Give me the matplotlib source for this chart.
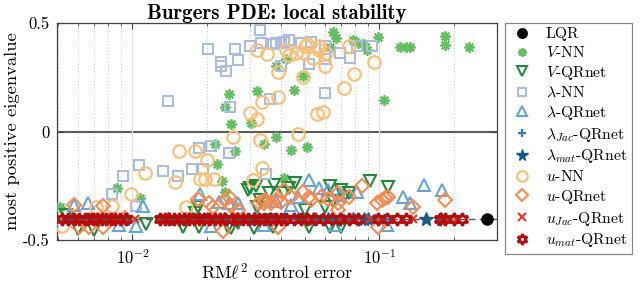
import matplotlib
matplotlib.use("Agg")
import matplotlib.pyplot as plt
from matplotlib.ticker import LogLocator, NullFormatter, FixedLocator

plt.rcParams['font.family'] = 'serif'
plt.rcParams['font.serif'] = ['cmr10']
plt.rcParams['mathtext.fontset'] = 'cm'
plt.rcParams['axes.formatter.use_mathtext'] = True
plt.rcParams['axes.unicode_minus'] = False

# ---------------- data ----------------
lqr_x = [0.272]
lqr_y = [-0.404]
lqr_level = -0.404

vnn_x = [0.0051, 0.0087, 0.0107, 0.0216, 0.022, 0.023, 0.0237, 0.026, 0.0238, 0.0246,
         0.0251, 0.0303, 0.032, 0.034, 0.038, 0.041, 0.044, 0.051, 0.038, 0.042,
         0.045, 0.049, 0.063, 0.065, 0.067, 0.078, 0.082, 0.087, 0.089, 0.099,
         0.104, 0.121, 0.128, 0.133, 0.184, 0.184, 0.231]
vnn_y = [-0.35, -0.26, -0.306, -0.058, -0.15, -0.23, -0.277, -0.09, 0.114, 0.171,
         0.035, 0.04, 0.185, -0.056, -0.027, -0.214, -0.084, -0.07, 0.30, 0.335,
         0.19, 0.257, 0.39, 0.46, 0.43, 0.42, 0.41, 0.405, 0.375, 0.435,
         0.146, 0.39, 0.39, 0.39, 0.44, 0.40, 0.39]

vqr_x = [0.0054, 0.0060, 0.0070, 0.0113, 0.016, 0.018, 0.0185, 0.0186, 0.0244, 0.025,
         0.0268, 0.0294, 0.030, 0.031, 0.0317, 0.032, 0.033, 0.0358, 0.036, 0.037,
         0.0375, 0.041, 0.043, 0.0455, 0.050, 0.052, 0.060, 0.063, 0.063, 0.065,
         0.070, 0.070, 0.072, 0.075, 0.092, 0.108]
vqr_y = [-0.384, -0.45, -0.454, -0.426, -0.44, -0.374, -0.346, -0.44, -0.44, -0.444,
         -0.42, -0.269, -0.26, -0.446, -0.253, -0.346, -0.315, -0.283, -0.41, -0.44,
         -0.245, -0.283, -0.26, -0.237, -0.36, -0.44, -0.346, -0.25, -0.44, -0.322,
         -0.27, -0.44, -0.30, -0.283, -0.23, -0.254]

lnn_x = [0.0083, 0.0092, 0.0103, 0.0106, 0.0133, 0.0139, 0.0153, 0.0175, 0.0186, 0.0193,
         0.0202, 0.0208, 0.0229, 0.0229, 0.024, 0.0245, 0.0248, 0.026, 0.0268, 0.030,
         0.033, 0.0333, 0.0349, 0.036, 0.037, 0.038, 0.040, 0.040, 0.041, 0.043,
         0.048, 0.052, 0.053, 0.060, 0.060, 0.060, 0.069, 0.076, 0.081, 0.093]
lnn_y = [-0.287, -0.205, -0.343, -0.154, -0.18, 0.143, -0.207, -0.172, -0.075, -0.172,
         0.38, -0.066, 0.32, 0.30, 0.28, -0.097, 0.115, 0.38, 0.33, 0.395,
         0.467, 0.41, -0.195, 0.15, 0.405, 0.41, 0.41, 0.30, 0.415, 0.42,
         0.41, 0.31, 0.415, 0.395, 0.335, 0.178, 0.36, 0.34, 0.395, 0.395]

lqr_net_x = [0.0058, 0.0066, 0.0088, 0.0103, 0.011, 0.0188, 0.0208, 0.0224, 0.0246, 0.0268,
             0.0317, 0.034, 0.038, 0.044, 0.047, 0.052, 0.057, 0.062, 0.066, 0.069,
             0.081, 0.107, 0.125, 0.133, 0.151, 0.179]
lqr_net_y = [-0.34, -0.33, -0.43, -0.435, -0.345, -0.29, -0.435, -0.323, -0.33, -0.33,
             -0.40, -0.43, -0.32, -0.338, -0.30, -0.223, -0.26, -0.269, -0.43, -0.292,
             -0.277, -0.43, -0.30, -0.33, -0.246, -0.269]

ljac_x = [0.0055, 0.0060, 0.0066, 0.0073, 0.0079, 0.0086, 0.0095, 0.0132, 0.0150, 0.0170,
          0.0192, 0.0215, 0.0240, 0.0270, 0.0300, 0.0335, 0.0375, 0.0420, 0.0470, 0.0520,
          0.0580, 0.0650, 0.0720, 0.0800, 0.0880, 0.0960, 0.1050]
ljac_y = [-0.404, -0.404, -0.404, -0.404, -0.404, -0.404, -0.404, -0.404, -0.404, -0.404,
          -0.404, -0.404, -0.404, -0.404, -0.404, -0.404, -0.404, -0.404, -0.404, -0.404,
          -0.404, -0.404, -0.404, -0.404, -0.404, -0.404, -0.404]

lmat_x = [0.0057, 0.0068, 0.0081, 0.0093, 0.0140, 0.0165, 0.0200, 0.0235, 0.0267, 0.0310,
          0.0360, 0.0410, 0.0466, 0.0540, 0.0620, 0.0700, 0.0780, 0.0870, 0.0900, 0.1550,
          0.1780]
lmat_y = [-0.404, -0.404, -0.404, -0.404, -0.404, -0.404, -0.404, -0.404, -0.404, -0.404,
          -0.404, -0.404, -0.404, -0.404, -0.404, -0.404, -0.404, -0.404, -0.404, -0.404,
          -0.404]

unn_x = [0.0052, 0.0071, 0.0083, 0.0099, 0.0112, 0.0149, 0.0155, 0.0165, 0.018, 0.0188,
         0.0197, 0.0201, 0.0214, 0.0256, 0.0309, 0.030, 0.032, 0.032, 0.033, 0.0335,
         0.0336, 0.035, 0.039, 0.039, 0.042, 0.043, 0.046, 0.047, 0.049, 0.049,
         0.050, 0.051, 0.054, 0.056, 0.057, 0.057, 0.059, 0.060, 0.061, 0.072,
         0.075, 0.079, 0.095]
unn_y = [-0.435, -0.346, -0.343, -0.29, -0.192, -0.235, -0.092, -0.35, -0.092, -0.22,
         -0.22, -0.13, -0.22, -0.025, -0.223, 0.086, 0.059, 0.377, -0.041, 0.138,
         -0.166, 0.357, 0.275, 0.159, 0.377, 0.354, 0.364, -0.01, 0.36, 0.25,
         0.395, 0.405, 0.34, 0.08, 0.395, 0.375, 0.09, 0.30, 0.36, 0.20,
         0.395, 0.266, 0.32]

uqr_x = [0.0058, 0.0061, 0.0067, 0.0076, 0.0076, 0.0093, 0.0185, 0.0205, 0.0212, 0.0233,
         0.0237, 0.0246, 0.025, 0.0268, 0.0326, 0.034, 0.0345, 0.0365, 0.038, 0.039,
         0.040, 0.041, 0.044, 0.049, 0.052, 0.053, 0.058, 0.062, 0.068, 0.068,
         0.068, 0.075, 0.085, 0.098, 0.099, 0.102, 0.105, 0.108, 0.137, 0.184]
uqr_y = [-0.338, -0.44, -0.44, -0.342, -0.44, -0.40, -0.31, -0.33, -0.35, -0.46,
         -0.315, -0.30, -0.345, -0.36, -0.33, -0.33, -0.315, -0.33, -0.315, -0.44,
         -0.323, -0.27, -0.30, -0.277, -0.30, -0.315, -0.30, -0.31, -0.283, -0.33,
         -0.36, -0.30, -0.253, -0.33, -0.44, -0.315, -0.306, -0.30, -0.35, -0.315]

ujac_x = [0.0053, 0.0057, 0.0063, 0.0068, 0.0074, 0.0080, 0.0087, 0.0093, 0.0102, 0.0131,
          0.0145, 0.016, 0.0175, 0.019, 0.021, 0.023, 0.025, 0.027, 0.030, 0.033,
          0.036, 0.039, 0.043, 0.047, 0.052, 0.057, 0.062, 0.068, 0.074, 0.080,
          0.092, 0.101, 0.112, 0.125, 0.137, 0.180, 0.190, 0.205]
ujac_y = [-0.404, -0.404, -0.404, -0.404, -0.404, -0.404, -0.404, -0.404, -0.404, -0.404,
          -0.404, -0.404, -0.404, -0.404, -0.404, -0.404, -0.404, -0.404, -0.404, -0.404,
          -0.404, -0.404, -0.404, -0.404, -0.404, -0.404, -0.404, -0.404, -0.404, -0.404,
          -0.404, -0.404, -0.404, -0.404, -0.404, -0.404, -0.404, -0.404]

umat_x = [0.0052, 0.0055, 0.0058, 0.0061, 0.0064, 0.0066, 0.0069, 0.0072, 0.0075, 0.0078,
          0.0082, 0.0085, 0.0089, 0.0094, 0.0129, 0.0135, 0.0141, 0.0148, 0.0155, 0.0162,
          0.0170, 0.0178, 0.0186, 0.0195, 0.0205, 0.0215, 0.0226, 0.0238, 0.0252, 0.0265,
          0.028, 0.0295, 0.031, 0.0325, 0.034, 0.036, 0.038, 0.040, 0.042, 0.045,
          0.048, 0.051, 0.055, 0.059, 0.064, 0.069, 0.075, 0.082, 0.099, 0.107,
          0.118, 0.128, 0.176, 0.185, 0.200, 0.215]
umat_y = [-0.404, -0.404, -0.404, -0.404, -0.404, -0.404, -0.404, -0.404, -0.404, -0.404,
          -0.404, -0.404, -0.404, -0.404, -0.404, -0.404, -0.404, -0.404, -0.404, -0.404,
          -0.404, -0.404, -0.404, -0.404, -0.404, -0.404, -0.404, -0.404, -0.404, -0.404,
          -0.404, -0.404, -0.404, -0.404, -0.404, -0.404, -0.404, -0.404, -0.404, -0.404,
          -0.404, -0.404, -0.404, -0.404, -0.404, -0.404, -0.404, -0.404, -0.404, -0.404,
          -0.404, -0.404, -0.404, -0.404, -0.404, -0.404]

labels = ['LQR', r'$V$-NN', r'$V$-QRnet', r'$\lambda$-NN', r'$\lambda$-QRnet',
          r'$\lambda_{Jac}$-QRnet', r'$\lambda_{mat}$-QRnet', r'$u$-NN', r'$u$-QRnet',
          r'$u_{Jac}$-QRnet', r'$u_{mat}$-QRnet']
yticks = [-0.5, 0, 0.5]
ytick_labels = ['-0.5', '0', '0.5']

# ---------------- plot ----------------
W, H = 640, 285
fig = plt.figure(figsize=(6.4, 2.85), dpi=100)
ax = fig.add_axes([0.089, 0.158, 0.688, 0.761])

ax.set_xscale('log')
ax.set_xlim(0.00495, 0.30)
ax.set_ylim(-0.5, 0.5)

ax.xaxis.set_major_locator(LogLocator(base=10, numticks=10))
ax.xaxis.set_minor_locator(LogLocator(base=10, subs=range(2, 10), numticks=20))
ax.xaxis.set_minor_formatter(NullFormatter())
ax.grid(True, which='major', axis='x', color='#e3e3e3', lw=0.9, ls='-', zorder=0)
ax.grid(True, which='minor', axis='x', color='#c8c8c8', lw=0.7, ls=(0, (1.2, 2.2)), zorder=0)

ax.yaxis.set_major_locator(FixedLocator(yticks))
ax.set_yticklabels(ytick_labels)
ax.axhline(0, color='#5a5a5a', lw=1.5, zorder=1)

ax.tick_params(which='both', direction='in', top=True, right=True, color='#444444')
ax.tick_params(which='major', length=4, labelsize=12)
ax.tick_params(axis='x', which='major', pad=6)
ax.tick_params(axis='y', which='major', pad=5)
ax.tick_params(which='minor', length=2)
for s in ax.spines.values():
    s.set_color('#444444')
    s.set_linewidth(0.9)

h = []
h += ax.plot(lqr_x, lqr_y, ls='none', marker='o', ms=8, color='black', zorder=6)
h += ax.plot(vnn_x, vnn_y, ls='none', marker=(8, 2, 0), ms=7.5, mew=1.3, color='#62c060', zorder=3)
h += ax.plot(vqr_x, vqr_y, ls='none', marker='v', ms=9, mew=1.5, mfc='none', color='#1f8a3c', zorder=3)
h += ax.plot(lnn_x, lnn_y, ls='none', marker='s', ms=7, mew=1.5, mfc='none', color='#aabde0', zorder=3)
h += ax.plot(lqr_net_x, lqr_net_y, ls='none', marker='^', ms=9, mew=1.5, mfc='none', color='#67a4d6', zorder=3)
h += ax.plot(ljac_x, ljac_y, ls='none', marker='+', ms=7, mew=1.6, color='#2f80bf', zorder=3)
h += ax.plot(lmat_x, lmat_y, ls='none', marker='*', ms=10, mew=1, color='#155a94', zorder=3)
h += ax.plot(unn_x, unn_y, ls='none', marker='o', ms=9, mew=1.5, mfc='none', color='#fdbd72', zorder=3)
h += ax.plot(uqr_x, uqr_y, ls='none', marker='D', ms=7.5, mew=1.5, mfc='none', color='#f98a52', zorder=3)
h += ax.plot(ujac_x, ujac_y, ls='none', marker='x', ms=6, mew=1.6, color='#e2402c', zorder=3)
h += ax.plot(umat_x, umat_y, ls='none', marker=(6, 1, 0), ms=9, mew=2, mfc='none', color='#bb0a0a', zorder=3)

ax.axhline(lqr_level, color='#555555', lw=1.0, ls=(0, (5, 3)), zorder=5)

ax.set_title('Burgers PDE: local stability', fontfamily='cmb10', fontsize=15, pad=2)
ax.set_xlabel(r'$\mathrm{RM}\ell^2\ \mathrm{control\ error}$', fontsize=13, labelpad=-4)
ax.set_ylabel('most positive eigenvalue', fontsize=13.4, labelpad=2)

leg = fig.legend(h, labels, loc='upper left',
                 bbox_to_anchor=(505 / W, (H - 22.7) / H), bbox_transform=fig.transFigure,
                 fontsize=11.3, frameon=True, fancybox=False, framealpha=1,
                 edgecolor='#888888', handlelength=1.6, handletextpad=0.7,
                 labelspacing=0.24, borderpad=0.3, borderaxespad=0, markerscale=0.85)
leg.get_frame().set_linewidth(0.9)

fig.savefig('out.png', dpi=100)
